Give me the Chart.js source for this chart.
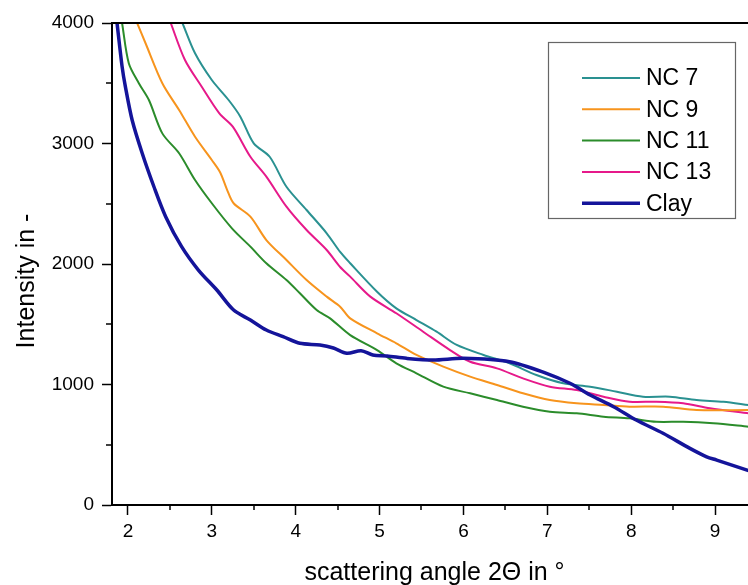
<!DOCTYPE html>
<html>
<head>
<meta charset="utf-8">
<title>Intensity vs scattering angle</title>
<script src="https://cdn.jsdelivr.net/npm/chart.js@4.4.1/dist/chart.umd.min.js"></script>
<style>
    html, body { margin: 0; padding: 0; background: #fff; overflow: hidden; }
    canvas { display: block; }
</style>
</head>
<body>
<canvas id="xrdChart" width="760" height="585"></canvas>
<script>
// ========== DATA ==========
const seriesNames = ['NC 7', 'NC 9', 'NC 11', 'NC 13', 'Clay'];

const nc7Angle = [2.65, 2.80, 3.00, 3.20, 3.34, 3.50, 3.69, 3.89, 4.13, 4.37, 4.53, 4.65, 4.97, 5.20, 5.44, 5.68, 5.92, 6.24, 6.55, 6.87, 7.19, 7.51, 7.83, 8.14, 8.46, 8.78, 9.10, 9.40];
const nc7Int   = [4000, 3749, 3527, 3361, 3223, 3001, 2890, 2641, 2448, 2255, 2100, 2006, 1770, 1632, 1535, 1438, 1328, 1245, 1176, 1079, 1010, 982, 940, 899, 899, 871, 857, 830];

const nc9Angle = [2.11, 2.21, 2.41, 2.61, 2.80, 3.00, 3.10, 3.18, 3.26, 3.46, 3.65, 3.89, 4.13, 4.37, 4.53, 4.65, 4.97, 5.20, 5.44, 5.76, 6.08, 6.40, 6.71, 7.03, 7.35, 7.67, 7.98, 8.38, 8.78, 9.40];
const nc9Int   = [4000, 3832, 3500, 3278, 3056, 2863, 2760, 2620, 2504, 2393, 2199, 2033, 1867, 1729, 1646, 1549, 1425, 1342, 1245, 1148, 1065, 996, 927, 871, 844, 830, 816, 816, 788, 788];

const nc11Angle = [1.93, 2.01, 2.13, 2.25, 2.41, 2.61, 2.80, 3.00, 3.24, 3.46, 3.65, 3.89, 4.05, 4.25, 4.41, 4.65, 4.97, 5.20, 5.44, 5.76, 6.08, 6.40, 6.71, 7.03, 7.35, 7.67, 7.98, 8.30, 8.62, 8.98, 9.40];
const nc11Int   = [4000, 3666, 3500, 3361, 3084, 2919, 2697, 2504, 2296, 2144, 2006, 1867, 1757, 1618, 1549, 1410, 1286, 1176, 1093, 982, 927, 871, 816, 774, 761, 733, 719, 691, 691, 678, 650];

const nc13Angle = [2.51, 2.68, 2.88, 3.09, 3.25, 3.46, 3.65, 3.89, 4.13, 4.37, 4.53, 4.65, 4.89, 5.20, 5.52, 5.84, 6.08, 6.40, 6.71, 7.03, 7.35, 7.67, 7.98, 8.30, 8.62, 8.94, 9.40];
const nc13Int   = [4000, 3693, 3471, 3250, 3140, 2890, 2725, 2476, 2282, 2116, 1975, 1895, 1729, 1591, 1438, 1286, 1189, 1134, 1051, 982, 954, 899, 857, 857, 844, 802, 761];

const clayAngle = [1.87, 1.93, 1.97, 2.05, 2.17, 2.31, 2.45, 2.64, 2.84, 3.06, 3.26, 3.46, 3.65, 3.85, 4.05, 4.29, 4.45, 4.61, 4.78, 4.92, 5.09, 5.32, 5.64, 6.00, 6.55, 6.99, 7.27, 7.51, 7.79, 8.06, 8.38, 8.70, 8.90, 9.02, 9.40];
const clayInt   = [4000, 3640, 3470, 3195, 2919, 2641, 2393, 2144, 1950, 1784, 1618, 1535, 1452, 1397, 1342, 1328, 1303, 1259, 1281, 1245, 1237, 1217, 1203, 1217, 1189, 1093, 1010, 913, 816, 705, 595, 470, 400, 373, 285];

const xTickLabels = [2, 3, 4, 5, 6, 7, 8, 9];
const xMinorTicks = [2.5, 3.5, 4.5, 5.5, 6.5, 7.5, 8.5];
const yTickLabels = [0, 1000, 2000, 3000, 4000];
const yMinorTicks = [500, 1500, 2500, 3500];

const FONT = '"Liberation Sans", Arial, sans-serif';

function toPoints(xs, ys) {
    return xs.map((x, i) => ({ x: x, y: ys[i] }));
}

function makeSeries(label, xs, ys, color, width, order) {
    return {
        label: label,
        data: toPoints(xs, ys),
        borderColor: color,
        backgroundColor: color,
        borderWidth: width,
        pointRadius: 0,
        tension: 0.3,
        fill: false,
        order: order
    };
}

// ========== PLUGINS (frame, minor ticks, legend, y title) ==========
const frameAndTicks = {
    id: 'frameAndTicks',
    afterDraw(chart) {
        const { ctx, chartArea, scales } = chart;
        ctx.save();
        ctx.strokeStyle = '#000';
        ctx.lineWidth = 2;
        ctx.beginPath();
        ctx.moveTo(chartArea.left - 1, chartArea.top);
        ctx.lineTo(chartArea.right, chartArea.top);
        ctx.lineTo(chartArea.right, chartArea.bottom);
        ctx.stroke();

        ctx.lineWidth = 1.5;
        xMinorTicks.forEach(v => {
            const px = Math.round(scales.x.getPixelForValue(v));
            ctx.beginPath();
            ctx.moveTo(px, chartArea.bottom);
            ctx.lineTo(px, chartArea.bottom + 5);
            ctx.stroke();
        });
        yMinorTicks.forEach(v => {
            const py = Math.round(scales.y.getPixelForValue(v));
            ctx.beginPath();
            ctx.moveTo(chartArea.left, py);
            ctx.lineTo(chartArea.left - 6, py);
            ctx.stroke();
        });

        // rotated y axis title
        ctx.translate(27, 281);
        ctx.rotate(-Math.PI / 2);
        ctx.font = '25px ' + FONT;
        ctx.fillStyle = '#000';
        ctx.textAlign = 'center';
        ctx.textBaseline = 'middle';
        ctx.fillText('Intensity in -', 0, 0);
        ctx.restore();
    }
};

const legendBox = {
    id: 'legendBox',
    afterDraw(chart) {
        const ctx = chart.ctx;
        ctx.save();
        ctx.fillStyle = '#fff';
        ctx.fillRect(548, 42, 187, 176);
        ctx.strokeStyle = '#666';
        ctx.lineWidth = 1.2;
        ctx.strokeRect(548.5, 42.5, 187, 176);
        ctx.font = '23px ' + FONT;
        ctx.textBaseline = 'middle';
        ctx.textAlign = 'left';
        seriesNames.forEach((name, i) => {
            const ds = chart.data.datasets[i];
            const y = 78 + i * 31.3;
            ctx.strokeStyle = ds.borderColor;
            ctx.lineWidth = ds.borderWidth;
            ctx.beginPath();
            ctx.moveTo(582, y);
            ctx.lineTo(640, y);
            ctx.stroke();
            ctx.fillStyle = '#000';
            ctx.fillText(name, 646, y + 1);
        });
        ctx.restore();
    }
};

// ========== CHART ==========
const ctx = document.getElementById('xrdChart').getContext('2d');

new Chart(ctx, {
    type: 'line',
    data: {
        datasets: [
            makeSeries(seriesNames[0], nc7Angle, nc7Int, '#2a9191', 2, 1),
            makeSeries(seriesNames[1], nc9Angle, nc9Int, '#f7941d', 2, 2),
            makeSeries(seriesNames[2], nc11Angle, nc11Int, '#2b8c2b', 2, 3),
            makeSeries(seriesNames[3], nc13Angle, nc13Int, '#e6198a', 2, 4),
            makeSeries(seriesNames[4], clayAngle, clayInt, '#14149a', 3.5, 0)
        ]
    },
    options: {
        responsive: false,
        animation: false,
        events: [],
        layout: { padding: { top: 23, right: 3, left: 0, bottom: 0 } },
        plugins: {
            legend: { display: false },
            tooltip: { enabled: false }
        },
        scales: {
            x: {
                type: 'linear',
                min: 1.81,
                max: 9.5,
                afterBuildTicks: s => { s.ticks = xTickLabels.map(v => ({ value: v })); },
                afterFit: s => { s.height = 80; },
                grid: { drawOnChartArea: false, tickLength: 10, tickWidth: 1.5, tickColor: '#000' },
                border: { color: '#000', width: 2 },
                ticks: {
                    color: '#000', padding: 5, maxRotation: 0,
                    font: { size: 19, family: FONT },
                    callback: v => String(v)
                },
                title: {
                    display: true,
                    text: 'scattering angle 2Θ in °',
                    color: '#000',
                    font: { size: 25, family: FONT, lineHeight: 1 },
                    padding: { top: 0, bottom: -0.5 }
                }
            },
            y: {
                min: 0,
                max: 4000,
                afterBuildTicks: s => { s.ticks = yTickLabels.map(v => ({ value: v })); },
                afterFit: s => { s.width = 112; },
                grid: { drawOnChartArea: false, tickLength: 10, tickWidth: 1.5, tickColor: '#000' },
                border: { color: '#000', width: 2 },
                ticks: {
                    color: '#000', padding: 8,
                    font: { size: 19, family: FONT },
                    callback: v => String(v)
                }
            }
        }
    },
    plugins: [frameAndTicks, legendBox]
});
</script>
</body>
</html>
